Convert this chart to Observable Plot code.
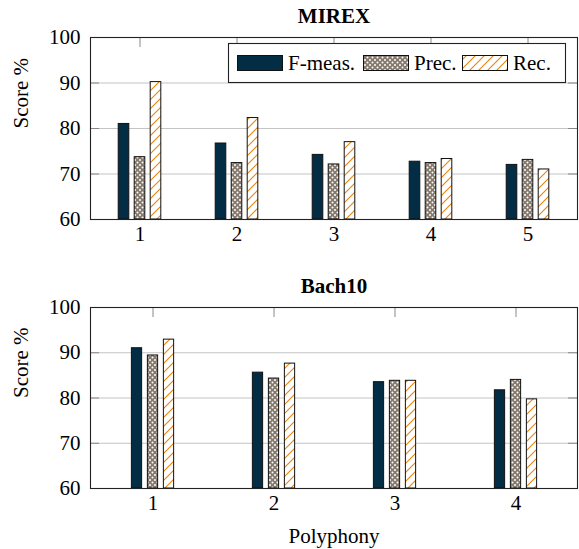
<!DOCTYPE html>
<html><head><meta charset="utf-8">
<script src="https://cdn.jsdelivr.net/npm/d3@7"></script>
<script src="https://cdn.jsdelivr.net/npm/@observablehq/plot@0.6"></script>
<style>
body{margin:0;background:#fff;}
#chart{position:relative;width:579px;height:549px;}
#chart svg{position:absolute;left:0;}
#chart svg, #chart svg text{font-family:"Liberation Serif", serif !important;}
</style></head><body><div id="chart"></div>
<script>
const series = ["F-meas.", "Prec.", "Rec."];
const mirexPolyphony = [1, 2, 3, 4, 5];
const mirexF = [81.0, 76.7, 74.2, 72.7, 72.0];
const mirexP = [73.7, 72.4, 72.1, 72.4, 73.1];
const mirexR = [90.2, 82.3, 77.0, 73.3, 71.0];
const bachPolyphony = [1, 2, 3, 4];
const bachF = [91.0, 85.6, 83.5, 81.7];
const bachP = [89.4, 84.3, 83.8, 84.0];
const bachR = [92.9, 87.6, 83.8, 79.7];
const yTicks = [60, 70, 80, 90, 100];

const FONT = '"Liberation Serif", serif';
const FS = 21;
const W = 579, ML = 90, MR = 2;

function addPatterns(svg, id) {
  const defs = d3.select(svg).insert("defs", ":first-child");
  const pd = defs.append("pattern").attr("id", "dots-" + id)
    .attr("patternUnits", "userSpaceOnUse").attr("width", 5).attr("height", 5);
  pd.append("rect").attr("width", 5).attr("height", 5).attr("fill", "#857a6d");
  for (const [cx, cy] of [[0,0],[5,0],[0,5],[5,5],[2.5,2.5]])
    pd.append("circle").attr("cx", cx).attr("cy", cy).attr("r", 1.0).attr("fill", "#fff");
  const pl = defs.append("pattern").attr("id", "lines-" + id)
    .attr("patternUnits", "userSpaceOnUse").attr("width", 9).attr("height", 9);
  pl.append("rect").attr("width", 9).attr("height", 9).attr("fill", "#fff");
  pl.append("path").attr("d", "M-2,2L2,-2M0,9L9,0M7,11L11,7")
    .attr("stroke", "#e8850a").attr("stroke-width", 1.1);
}

function panel({id, title, cats, vals, height, marginTop, marginBottom, xLabel}) {
  const rows = v => cats.map((c, i) => ({cat: c, value: v[i]}));
  const step = (W - ML - MR) / cats.length;
  const barW = 11, gap = 16;
  const inset = (step - barW) / 2;
  const frameW = W - ML - MR, frameH = height - marginTop - marginBottom;
  const fills = ["#022d45", `url(#dots-${id})`, `url(#lines-${id})`];
  const offs = [-gap, 0, gap];
  const marks = [
    Plot.gridY(yTicks.slice(1, -1), {stroke: "#c4c4c4", strokeOpacity: 1}),
    Plot.tickY(yTicks, {y: d => d, stroke: "#888", insetRight: frameW - 9}),
    Plot.tickY(yTicks, {y: d => d, stroke: "#888", insetLeft: frameW - 9}),
    Plot.tickX(cats, {x: d => d, stroke: "#888", insetBottom: frameH - 10}),
    Plot.tickX(cats, {x: d => d, stroke: "#888", insetTop: frameH - 10}),
    ...vals.map((v, j) => Plot.barY(rows(v), {
      x: "cat", y1: 60, y2: "value", fill: fills[j], stroke: "#111", strokeWidth: 1,
      insetLeft: inset, insetRight: inset, dx: offs[j]
    })),
    Plot.frame({stroke: "#222", strokeWidth: 1.1}),
    Plot.text([title], {frameAnchor: "top", dy: -21, fontWeight: "bold", fontSize: FS, fontFamily: FONT, lineAnchor: "middle", fill: "#000"}),
    Plot.text(["Score %"], {frameAnchor: "left", rotate: -90, dx: -69, fontSize: FS, fontFamily: FONT, lineAnchor: "middle", fill: "#000"})
  ];
  if (xLabel) marks.push(Plot.text([xLabel], {frameAnchor: "bottom", dy: 48, fontSize: FS, fontFamily: FONT, lineAnchor: "middle", fill: "#000"}));
  return Plot.plot({
    width: W, height, marginLeft: ML, marginRight: MR, marginTop, marginBottom,
    style: {fontFamily: FONT, fontSize: FS + "px", color: "#000", background: "#fff", overflow: "visible"},
    x: {type: "band", domain: cats, padding: 0, label: null, tickSize: 0, tickPadding: 7},
    y: {domain: [60, 100], ticks: yTicks, label: null, tickSize: 0, tickPadding: 10},
    marks
  });
}

const root = document.getElementById("chart");

const topPanel = panel({id: "a", title: "MIREX", cats: mirexPolyphony, vals: [mirexF, mirexP, mirexR],
  height: 250, marginTop: 37, marginBottom: 31});
addPatterns(topPanel, "a");
topPanel.style.top = "0px";
root.appendChild(topPanel);

// legend
const lg = d3.select(topPanel).append("g").attr("font-family", FONT).attr("font-size", FS)
  .attr("text-anchor", "start");
lg.append("rect").attr("x", 228.5).attr("y", 43.5).attr("width", 337).attr("height", 39)
  .attr("fill", "#fff").attr("stroke", "#222").attr("stroke-width", 1.1);
const legendItems = [
  {x: 237, fill: "#022d45"},
  {x: 363, fill: "url(#dots-a)"},
  {x: 462, fill: "url(#lines-a)"}
];
series.forEach((s, i) => {
  const it = legendItems[i];
  lg.append("rect").attr("x", it.x + 0.5).attr("y", 55.5).attr("width", 45).attr("height", 15)
    .attr("fill", it.fill).attr("stroke", "#111").attr("stroke-width", 1);
  lg.append("text").attr("x", it.x + 51).attr("y", 63).attr("dy", "0.35em")
    .attr("text-anchor", "start").attr("fill", "#000").text(s);
});

const bottomPanel = panel({id: "b", title: "Bach10", cats: bachPolyphony, vals: [bachF, bachP, bachR],
  height: 299, marginTop: 57, marginBottom: 61, xLabel: "Polyphony"});
addPatterns(bottomPanel, "b");
bottomPanel.style.top = "250px";
root.appendChild(bottomPanel);
</script></body></html>
